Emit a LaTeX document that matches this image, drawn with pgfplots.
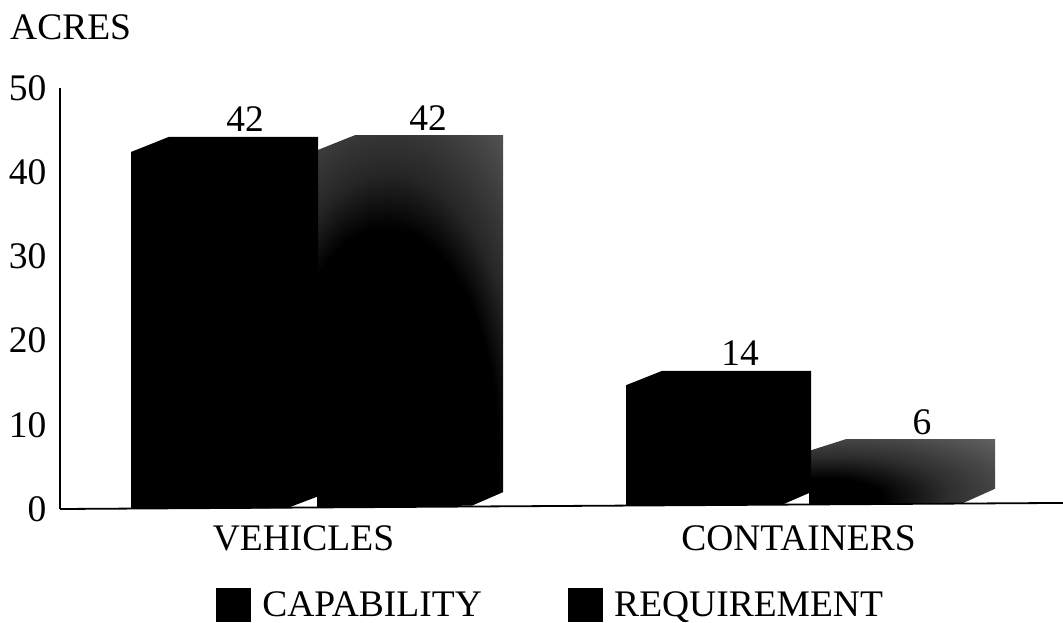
\documentclass[border=0pt]{standalone}
\usepackage{pgfplots}
\pgfplotsset{compat=1.18}
\usepackage{fontspec}
\setmainfont{Liberation Serif}
\pgfdeclareradialshading{reqA}{\pgfpoint{-9bp}{-25bp}}{
  color(0bp)=(black); color(30bp)=(black); color(36bp)=(black!85!white);
  color(48bp)=(black!68!white); color(100bp)=(black!68!white)}
\pgfdeclareradialshading{reqB}{\pgfpoint{-25bp}{-25bp}}{
  color(0bp)=(black); color(16bp)=(black); color(30bp)=(black!82!white);
  color(52bp)=(black!62!white); color(100bp)=(black!62!white)}
\begin{document}
\begin{tikzpicture}[x=1pt,y=1pt]
\path[use as bounding box] (0,0) rectangle (1063,622);
\begin{axis}[
  at={(60pt,113pt)}, anchor=south west,
  scale only axis, width=1003pt, height=421pt,
  xmin=60, xmax=1063, ymin=0, ymax=50,
  axis y line=left, axis x line=bottom,
  axis line style={-, line width=1.4pt},
  x axis line style={draw=none},
  xtick={303.5,798.5}, xticklabels={VEHICLES,CONTAINERS},
  ytick={0,10,20,30,40,50},
  major tick length=0pt,
  tick label style={font=\fontsize{37.5}{41}\selectfont},
  /pgf/number format/assume math mode=true,
  xticklabel style={anchor=base, yshift=-41pt},
  yticklabel style={anchor=east, xshift=-10pt},
  clip=false,
  legend columns=2,
  legend cell align=left,
  legend style={at={(0.1555,-0.266)}, anchor=south west, draw=none, fill=none,
    inner sep=0pt, outer sep=0pt,
    font=\fontsize{37.5}{41}\selectfont,
    /tikz/every even column/.append style={column sep=86pt},
    nodes={inner sep=0pt, outer sep=0pt}},
  legend image code/.code={\fill[black] (0pt,-16pt) rectangle (34pt,17pt);\path (46pt,0pt);},
]
\addlegendimage{}
\addlegendentry{CAPABILITY}
\addlegendimage{}
\addlegendentry{REQUIREMENT}

% requirement, vehicles: shaded silhouette
\addplot[shade, shading=reqA, draw=none] coordinates {
 (317,0.2) (317,42.6) (355,44.4) (503,44.4) (503,2.0) (472,0.4)} -- cycle;
% capability, vehicles
\addplot[fill=black, draw=none] coordinates {
 (131,0) (131,42.4) (169,44.2) (318,44.2) (318,1.5) (287,0.1)} -- cycle;
% requirement, containers
\addplot[shade, shading=reqB, draw=none] coordinates {
 (809,0.55) (809,6.9) (846,8.3) (995,8.3) (995,2.4) (963,0.7)} -- cycle;
% capability, containers
\addplot[fill=black, draw=none] coordinates {
 (626,0.5) (626,14.7) (662,16.4) (811,16.4) (811,2.0) (782,0.5)} -- cycle;
% baseline
\addplot[black, line width=1.8pt] coordinates {(60,0) (1063,0.72)};
% value labels
\addplot[draw=none, point meta=explicit symbolic,
  nodes near coords, nodes near coords style={anchor=base, yshift=5pt, inner sep=0pt,
   font=\fontsize{37.5}{41}\selectfont, text=black}]
 coordinates {(245,44.2)[42] (428,44.4)[42] (740,16.4)[14] (922,8.3)[6]};
\end{axis}
\node[anchor=base west, inner sep=0pt, font=\fontsize{37.5}{41}\selectfont] at (10,582.5) {ACRES};
\end{tikzpicture}
\end{document}
